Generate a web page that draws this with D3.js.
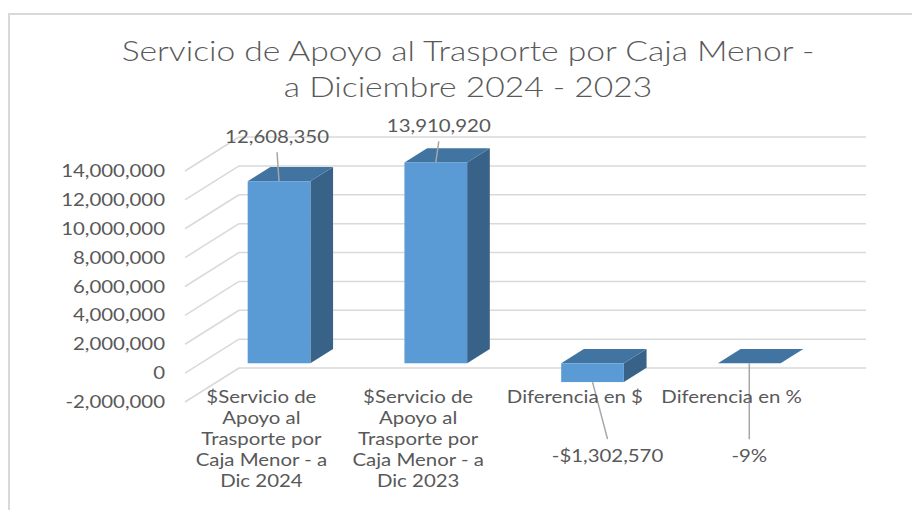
<!DOCTYPE html>
<html>
<head>
<meta charset="utf-8">
<script src="https://cdn.jsdelivr.net/npm/d3@7"></script>
<style>
  body { margin: 0; background: #fff; }
  svg { display: block; }
  text { font-family: Lato, "Open Sans", sans-serif; fill: #595959; }
</style>
</head>
<body>
<svg id="chart" width="912" height="510"></svg>
<script>
// chart data
var categories = [
   ['$Servicio de', 'Apoyo al', 'Trasporte por', 'Caja Menor - a', 'Dic 2024'],
   ['$Servicio de', 'Apoyo al', 'Trasporte por', 'Caja Menor - a', 'Dic 2023'],
   ['Diferencia en $'],
   ['Diferencia en %']
];
var values = [12608350, 13910920, -1302570, -0.09];
var valueLabels = ['12,608,350', '13,910,920', '-$1,302,570', '-9%'];
var yTicks = [-2000000, 0, 2000000, 4000000, 6000000, 8000000, 10000000, 12000000, 14000000];
var titleLines = ['Servicio de Apoyo al Trasporte por Caja Menor -', 'a Diciembre 2024 - 2023'];

// layout
var SX = 1.2;            // horizontal stretch of the text
var DX = 54, DY = 34;    // depth offset of the 3d box
var Z0 = 0.29, Z1 = 0.71; // depth range of bars
// label offset [dx, dy] from anchor point
var labelOffsets = [[-2, -38], [3, -30], [15, 80], [0, 99]];

var svg = d3.select('#chart');

var x = d3.scaleBand()
   .domain(d3.range(categories.length))
   .range([185, 812])
   .paddingInner(0.6)
   .paddingOuter(0.3);

var y = d3.scaleLinear()
   .domain([-2000000, 14000000])
   .range([402, 171]);

function px(xf, z) { return xf + z * DX; }
function py(yf, z) { return yf - z * DY; }

function stext(g, tx, ty, str, size, anchor) {
   return g.append('text')
      .attr('transform', 'translate(' + tx + ',' + ty + ') scale(' + SX + ',1)')
      .attr('text-anchor', anchor || 'middle')
      .style('font-size', size + 'px')
      .text(str);
}

// outer border
svg.append('path')
   .attr('d', 'M9,512 L9,14 L914,14')
   .attr('fill', 'none')
   .attr('stroke', '#d9d9d9')
   .attr('stroke-width', 2);

// title
titleLines.forEach(function(t, i) {
   stext(svg, 468, 61 + i * 36, t, 28, 'middle')
      .style('font-weight', 300);
});

var x0 = x.range()[0], x1 = x.range()[1];

// walls gridlines
var grid = svg.append('g')
   .attr('stroke', '#d9d9d9')
   .attr('stroke-width', 1.5)
   .attr('fill', 'none');

grid.selectAll('line.back')
   .data(yTicks)
   .enter()
   .append('line')
   .attr('x1', px(x0, 1))
   .attr('x2', px(x1, 1))
   .attr('y1', function(d) { return py(y(d), 1); })
   .attr('y2', function(d) { return py(y(d), 1); });

grid.selectAll('line.side')
   .data(yTicks)
   .enter()
   .append('line')
   .attr('x1', px(x0, 0))
   .attr('x2', px(x0, 1))
   .attr('y1', function(d) { return y(d); })
   .attr('y2', function(d) { return py(y(d), 1); });

// y axis labels (hyphen as minus sign)
var fmt = d3.formatLocale({ decimal: '.', thousands: ',', grouping: [3], currency: ['$', ''], minus: '-' }).format(',');
yTicks.forEach(function(t) {
   stext(svg, 165, y(t) + 6, fmt(t), 17, 'end');
});

// bars
var bars = svg.append('g');
values.forEach(function(v, i) {
   var xl = x(i), xr = x(i) + x.bandwidth();
   var ytop = y(Math.max(v, 0)), ybot = y(Math.min(v, 0));
   // side face
   bars.append('path')
      .attr('d', 'M' + px(xr, Z0) + ',' + py(ytop, Z0) +
                 'L' + px(xr, Z1) + ',' + py(ytop, Z1) +
                 'L' + px(xr, Z1) + ',' + py(ybot, Z1) +
                 'L' + px(xr, Z0) + ',' + py(ybot, Z0) + 'Z')
      .attr('fill', '#386288');
   // top face
   bars.append('path')
      .attr('d', 'M' + px(xl, Z0) + ',' + py(ytop, Z0) +
                 'L' + px(xr, Z0) + ',' + py(ytop, Z0) +
                 'L' + px(xr, Z1) + ',' + py(ytop, Z1) +
                 'L' + px(xl, Z1) + ',' + py(ytop, Z1) + 'Z')
      .attr('fill', '#4274a1');
   // front face
   bars.append('rect')
      .attr('x', px(xl, Z0))
      .attr('y', py(ytop, Z0))
      .attr('width', x.bandwidth())
      .attr('height', ybot - ytop)
      .attr('fill', '#5b9bd5');
});

// data labels with leader lines
values.forEach(function(v, i) {
   var cx = px(x(i) + x.bandwidth() / 2, Z0);
   var ay = py(y(v), Z0);
   var off = labelOffsets[i];
   var lx = cx + off[0], ly = ay + off[1];
   var ly2 = v >= 0 ? ly + 9 : ly - 23;
   svg.append('line')
      .attr('x1', cx).attr('y1', ay)
      .attr('x2', lx).attr('y2', ly2)
      .attr('stroke', '#a6a6a6')
      .attr('stroke-width', 1.5);
   stext(svg, lx, ly, valueLabels[i], 17, 'middle');
});

// category labels
categories.forEach(function(lines, i) {
   var cx = x(i) + x.bandwidth() / 2 - 2;
   lines.forEach(function(l, j) {
      stext(svg, cx, 403 + j * 21, l, 17, 'middle');
   });
});
</script>
</body>
</html>
